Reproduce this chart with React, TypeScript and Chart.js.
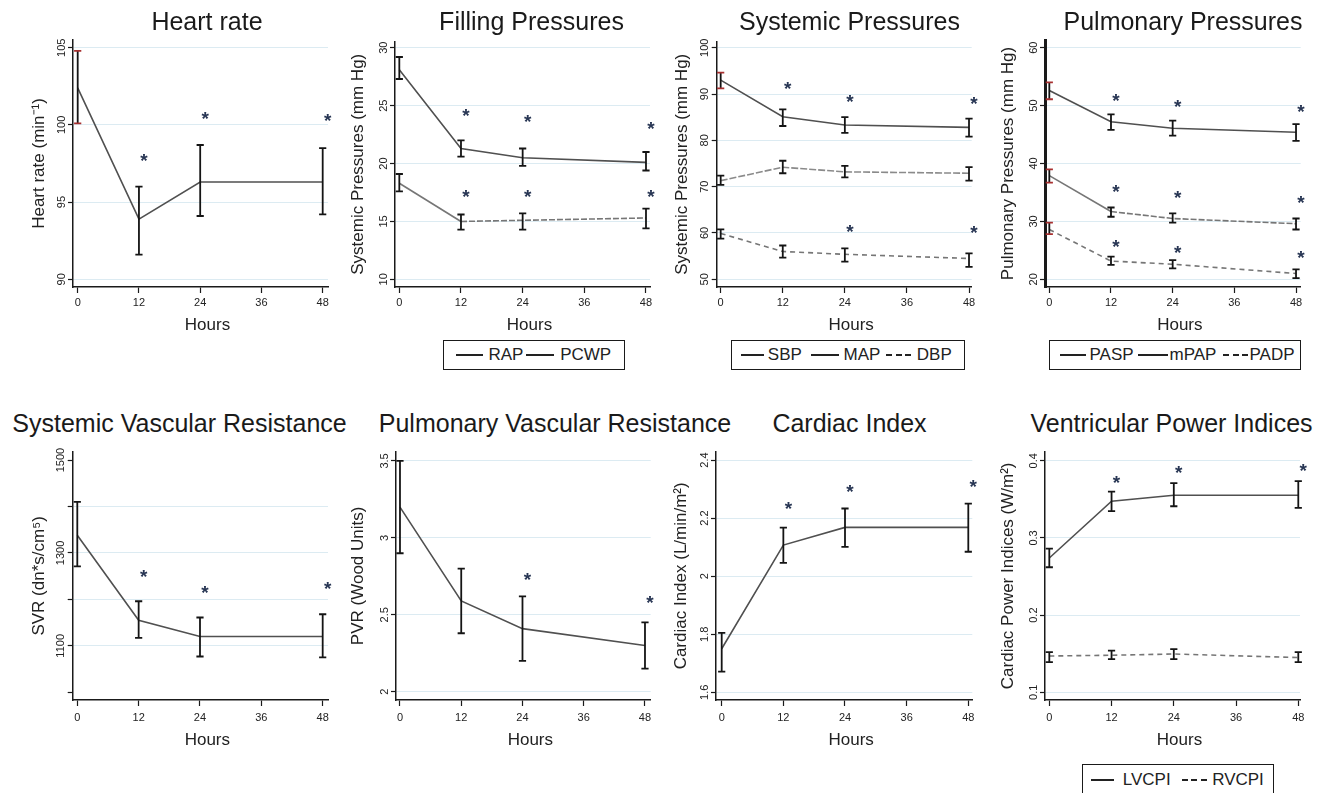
import React, { useEffect, useRef } from 'react';
import { Chart, registerables } from 'chart.js';

Chart.register(...registerables);

const FONT = '"Liberation Sans", Arial, Helvetica, sans-serif';
const GRID = '#dcebf2';
const AXIS = '#1a1a1a';

// ---------- shared categories ----------
const hours = [0, 12, 24, 48];
const xTickValues = [0, 12, 24, 36, 48];
const starHours = [12, 24, 48];
const lateStarHours = [24, 48];

// ---------- Heart rate ----------
const hrMean = [102.4, 93.9, 96.3, 96.3];
const hrLow = [100.1, 91.6, 94.1, 94.2];
const hrHigh = [104.8, 96.0, 98.7, 98.5];
const hrStars = [98.0, 100.7, 100.6];
const hrYTicks = [90, 95, 100, 105];
const hrYLabels = ['90', '95', '100', '105'];

// ---------- Filling pressures ----------
const rapMean = [28.1, 21.3, 20.5, 20.1];
const rapLow = [27.3, 20.6, 19.8, 19.4];
const rapHigh = [29.2, 22.0, 21.3, 21.0];
const rapStars = [24.5, 24.0, 23.4];
const pcwpMean = [18.3, 15.0, 15.1, 15.3];
const pcwpLow = [17.6, 14.3, 14.3, 14.4];
const pcwpHigh = [19.1, 15.6, 15.7, 16.1];
const pcwpStars = [17.5, 17.5, 17.5];
const fillYTicks = [10, 15, 20, 25, 30];
const fillYLabels = ['10', '15', '20', '25', '30'];

// ---------- Systemic pressures ----------
const sbpMean = [93.0, 85.1, 83.3, 82.8];
const sbpLow = [91.2, 83.1, 81.6, 80.8];
const sbpHigh = [94.6, 86.7, 85.0, 84.7];
const sbpStars = [92.2, 89.4, 88.9];
const mapMean = [71.3, 74.2, 73.2, 72.9];
const mapLow = [70.4, 72.9, 72.0, 71.3];
const mapHigh = [72.4, 75.6, 74.5, 74.2];
const dbpMean = [59.9, 56.0, 55.4, 54.5];
const dbpLow = [58.8, 54.7, 53.8, 52.7];
const dbpHigh = [60.8, 57.3, 56.7, 55.6];
const dbpStars = [61.2, 61.0];
const sysYTicks = [50, 60, 70, 80, 90, 100];
const sysYLabels = ['50', '60', '70', '80', '90', '100'];

// ---------- Pulmonary pressures ----------
const paspMean = [52.6, 47.2, 46.1, 45.4];
const paspLow = [51.1, 45.8, 44.8, 43.9];
const paspHigh = [54.0, 48.5, 47.4, 46.8];
const paspStars = [51.7, 50.6, 49.7];
const mpapMean = [37.9, 31.7, 30.5, 29.6];
const mpapLow = [36.7, 30.8, 29.8, 28.6];
const mpapHigh = [39.0, 32.4, 31.4, 30.5];
const mpapStars = [36.0, 34.85, 34.0];
const padpMean = [28.6, 23.15, 22.6, 21.0];
const padpLow = [27.8, 22.5, 21.9, 20.2];
const padpHigh = [29.8, 23.9, 23.3, 21.7];
const padpStars = [26.5, 25.35, 24.5];
const pulYTicks = [20, 30, 40, 50, 60];
const pulYLabels = ['20', '30', '40', '50', '60'];

// ---------- SVR ----------
const svrMean = [1338, 1155, 1120, 1120];
const svrLow = [1271, 1117, 1077, 1075];
const svrHigh = [1410, 1196, 1161, 1168];
const svrStars = [1259, 1225, 1232];
const svrYTicks = [1000, 1100, 1200, 1300, 1400, 1500];
const svrYLabels = ['', '1100', '', '1300', '', '1500'];
const svrNoGrid = [1000, 1500];

// ---------- PVR ----------
const pvrMean = [3.2, 2.59, 2.41, 2.3];
const pvrLow = [2.9, 2.38, 2.2, 2.15];
const pvrHigh = [3.5, 2.8, 2.62, 2.45];
const pvrStars = [2.76, 2.61];
const pvrYTicks = [2, 2.5, 3, 3.5];
const pvrYLabels = ['2', '2.5', '3', '3.5'];

// ---------- Cardiac index ----------
const ciMean = [1.75, 2.107, 2.168, 2.168];
const ciLow = [1.671, 2.046, 2.101, 2.084];
const ciHigh = [1.805, 2.167, 2.233, 2.25];
const ciStars = [2.248, 2.306, 2.325];
const ciYTicks = [1.6, 1.8, 2, 2.2, 2.4];
const ciYLabels = ['1.6', '1.8', '2', '2.2', '2.4'];

// ---------- Ventricular power indices ----------
const lvMean = [0.274, 0.3475, 0.3553, 0.3553];
const lvLow = [0.262, 0.3346, 0.341, 0.339];
const lvHigh = [0.286, 0.36, 0.371, 0.3735];
const lvStars = [0.377, 0.391, 0.393];
const rvMean = [0.147, 0.148, 0.1496, 0.145];
const rvLow = [0.139, 0.143, 0.143, 0.139];
const rvHigh = [0.152, 0.154, 0.156, 0.152];
const vpiYTicks = [0.1, 0.2, 0.3, 0.4];
const vpiYLabels = ['0.1', '0.2', '0.3', '0.4'];

type Series = {
  label: string;
  mean: number[];
  low: number[];
  high: number[];
  stars?: number[];
  starAt?: number[];
  color: string;
  dash?: number[];
  dashFrom?: number;
  firstCap?: string;
};

type LegendItem = { label: string; dash: boolean; x0: number; x1: number; tx: number };
type Legend = { left: number; top: number; width: number; height: number; items: LegendItem[] };

type Panel = {
  id: string;
  title: string;
  titleX: number;
  row: 0 | 1;
  left: number;
  width: number;
  areaTop: number;
  yW: number;
  padRight: number;
  yTitlePad: number;
  xMin: number;
  xMax: number;
  yMin: number;
  yMax: number;
  yTicks: number[];
  yLabels: string[];
  noGrid?: number[];
  yTitle: string;
  axisWidth: number;
  series: Series[];
  legend?: Legend;
};

const ROWS = [
  { top: 30, height: 310, areaBottom: 287, hoursY: 295.5, xPad: 3.1, titleTop: 8.8 },
  { top: 440, height: 315, areaBottom: 700, hoursY: 300, xPad: 5.4, titleTop: 410.5 },
];

const SOLID = '#505050';
const LIGHT = '#767676';
const RED = '#a83030';

const panels: Panel[] = [
  {
    id: 'hr', title: 'Heart rate', titleX: 207, row: 0, left: 0, width: 340, areaTop: 40, yW: 73, padRight: 12,
    yTitlePad: 28.8, xMin: -0.92, xMax: 49.04, yMin: 89.5, yMax: 105.5, yTicks: hrYTicks, yLabels: hrYLabels,
    yTitle: 'Heart rate (min⁻¹)', axisWidth: 1.5,
    series: [{ label: 'HR', mean: hrMean, low: hrLow, high: hrHigh, stars: hrStars, starAt: starHours, color: SOLID, firstCap: RED }],
  },
  {
    id: 'fill', title: 'Filling Pressures', titleX: 531.5, row: 0, left: 340, width: 328, areaTop: 41.5, yW: 55, padRight: 18,
    yTitlePad: 7.8, xMin: -0.84, xMax: 48.78, yMin: 9.34, yMax: 30.54, yTicks: fillYTicks, yLabels: fillYLabels,
    yTitle: 'Systemic Pressures (mm Hg)', axisWidth: 1.5,
    series: [
      { label: 'RAP', mean: rapMean, low: rapLow, high: rapHigh, stars: rapStars, starAt: starHours, color: SOLID },
      { label: 'PCWP', mean: pcwpMean, low: pcwpLow, high: pcwpHigh, stars: pcwpStars, starAt: starHours, color: LIGHT, dashFrom: 1 },
    ],
    legend: {
      left: 443, top: 340, width: 182, height: 29.5,
      items: [
        { label: 'RAP', dash: false, x0: 456.7, x1: 483.3, tx: 489 },
        { label: 'PCWP', dash: false, x0: 526.7, x1: 555, tx: 560.7 },
      ],
    },
  },
  {
    id: 'sys', title: 'Systemic Pressures', titleX: 849.5, row: 0, left: 668, width: 327, areaTop: 41.5, yW: 48.7, padRight: 23.3,
    yTitlePad: 4.5, xMin: -0.77, xMax: 48.52, yMin: 48.34, yMax: 101.34, yTicks: sysYTicks, yLabels: sysYLabels,
    yTitle: 'Systemic Pressures (mm Hg)', axisWidth: 1.5,
    series: [
      { label: 'SBP', mean: sbpMean, low: sbpLow, high: sbpHigh, stars: sbpStars, starAt: starHours, color: SOLID, firstCap: RED },
      { label: 'MAP', mean: mapMean, low: mapLow, high: mapHigh, color: '#8a8a8a', dash: [7, 2] },
      { label: 'DBP', mean: dbpMean, low: dbpLow, high: dbpHigh, stars: dbpStars, starAt: lateStarHours, color: LIGHT, dash: [5, 4] },
    ],
    legend: {
      left: 731, top: 339.5, width: 234, height: 30.5,
      items: [
        { label: 'SBP', dash: false, x0: 741.7, x1: 765, tx: 768.3 },
        { label: 'MAP', dash: false, x0: 811.7, x1: 840, tx: 844 },
        { label: 'DBP', dash: true, x0: 886.7, x1: 915, tx: 917.3 },
      ],
    },
  },
  {
    id: 'pul', title: 'Pulmonary Pressures', titleX: 1183, row: 0, left: 995, width: 336, areaTop: 40, yW: 50, padRight: 30.3,
    yTitlePad: 3.1, xMin: -0.84, xMax: 48.91, yMin: 18.67, yMax: 61.33, yTicks: pulYTicks, yLabels: pulYLabels,
    yTitle: 'Pulmonary Pressures (mm Hg)', axisWidth: 3,
    series: [
      { label: 'PASP', mean: paspMean, low: paspLow, high: paspHigh, stars: paspStars, starAt: starHours, color: SOLID, firstCap: RED },
      { label: 'mPAP', mean: mpapMean, low: mpapLow, high: mpapHigh, stars: mpapStars, starAt: starHours, color: LIGHT, dashFrom: 1, firstCap: RED },
      { label: 'PADP', mean: padpMean, low: padpLow, high: padpHigh, stars: padpStars, starAt: starHours, color: LIGHT, dash: [5, 4], firstCap: RED },
    ],
    legend: {
      left: 1049.3, top: 339.5, width: 251.7, height: 30.5,
      items: [
        { label: 'PASP', dash: false, x0: 1060.7, x1: 1086.7, tx: 1090 },
        { label: 'mPAP', dash: false, x0: 1138.3, x1: 1168.3, tx: 1170 },
        { label: 'PADP', dash: true, x0: 1223.3, x1: 1248.3, tx: 1250 },
      ],
    },
  },
  {
    id: 'svr', title: 'Systemic Vascular Resistance', titleX: 179.5, row: 1, left: 0, width: 340, areaTop: 451.7, yW: 72.7, padRight: 12,
    yTitlePad: 29, xMin: -0.9, xMax: 49.04, yMin: 983.4, yMax: 1517.9, yTicks: svrYTicks, yLabels: svrYLabels, noGrid: svrNoGrid,
    yTitle: 'SVR (dn*s/cm⁵)', axisWidth: 1.5,
    series: [{ label: 'SVR', mean: svrMean, low: svrLow, high: svrHigh, stars: svrStars, starAt: starHours, color: SOLID }],
  },
  {
    id: 'pvr', title: 'Pulmonary Vascular Resistance', titleX: 555, row: 1, left: 340, width: 328, areaTop: 451.7, yW: 56, padRight: 17.3,
    yTitlePad: 8, xMin: -0.78, xMax: 49.12, yMin: 1.946, yMax: 3.56, yTicks: pvrYTicks, yLabels: pvrYLabels,
    yTitle: 'PVR (Wood Units)', axisWidth: 1.5,
    series: [{ label: 'PVR', mean: pvrMean, low: pvrLow, high: pvrHigh, stars: pvrStars, starAt: lateStarHours, color: SOLID }],
  },
  {
    id: 'ci', title: 'Cardiac Index', titleX: 849.5, row: 1, left: 668, width: 327, areaTop: 451.7, yW: 48, padRight: 22.7,
    yTitlePad: 3.5, xMin: -1.11, xMax: 48.78, yMin: 1.5735, yMax: 2.4286, yTicks: ciYTicks, yLabels: ciYLabels,
    yTitle: 'Cardiac Index (L/min/m²)', axisWidth: 1.5,
    series: [{ label: 'CI', mean: ciMean, low: ciLow, high: ciHigh, stars: ciStars, starAt: starHours, color: SOLID }],
  },
  {
    id: 'vpi', title: 'Ventricular Power Indices', titleX: 1171.5, row: 1, left: 995, width: 336, areaTop: 451.7, yW: 50, padRight: 31,
    yTitlePad: 3.1, xMin: -0.83, xMax: 48.33, yMin: 0.09, yMax: 0.4117, yTicks: vpiYTicks, yLabels: vpiYLabels,
    yTitle: 'Cardiac Power Indices (W/m²)', axisWidth: 1.5,
    series: [
      { label: 'LVCPI', mean: lvMean, low: lvLow, high: lvHigh, stars: lvStars, starAt: starHours, color: SOLID },
      { label: 'RVCPI', mean: rvMean, low: rvLow, high: rvHigh, color: LIGHT, dash: [5, 4] },
    ],
    legend: {
      left: 1082.3, top: 764.3, width: 191.7, height: 31,
      items: [
        { label: 'LVCPI', dash: false, x0: 1091.7, x1: 1115, tx: 1123.3 },
        { label: 'RVCPI', dash: true, x0: 1182.7, x1: 1207.3, tx: 1212.7 },
      ],
    },
  },
];

function makeExtras(p: Panel) {
  const row = ROWS[p.row];
  return {
    id: 'extras_' + p.id,
    afterDatasetsDraw(chart: any) {
      const { ctx } = chart;
      const xs = chart.scales.x;
      const ys = chart.scales.y;
      ctx.save();
      p.series.forEach((s) => {
        hours.forEach((h, i) => {
          const px = xs.getPixelForValue(h);
          const y1 = ys.getPixelForValue(s.low[i]);
          const y2 = ys.getPixelForValue(s.high[i]);
          ctx.strokeStyle = '#141414';
          ctx.lineWidth = 1.8;
          ctx.beginPath();
          ctx.moveTo(px, y1);
          ctx.lineTo(px, y2);
          ctx.stroke();
          ctx.strokeStyle = i === 0 && s.firstCap ? s.firstCap : '#141414';
          ctx.beginPath();
          ctx.moveTo(px - 3.6, y1);
          ctx.lineTo(px + 3.6, y1);
          ctx.moveTo(px - 3.6, y2);
          ctx.lineTo(px + 3.6, y2);
          ctx.stroke();
        });
        if (s.stars && s.starAt) {
          ctx.fillStyle = '#283654';
          ctx.font = `bold 19px ${FONT}`;
          ctx.textAlign = 'center';
          ctx.textBaseline = 'alphabetic';
          s.stars.forEach((v, k) => {
            const sx = xs.getPixelForValue(s.starAt![k]) + 5;
            const sy = ys.getPixelForValue(v);
            ctx.fillText('*', sx, sy + 10.9);
          });
        }
      });
      ctx.restore();
    },
    afterDraw(chart: any) {
      const { ctx, chartArea } = chart;
      const ys = chart.scales.y;
      ctx.save();
      ctx.fillStyle = '#222';
      ctx.font = `11px ${FONT}`;
      ctx.textAlign = 'center';
      ctx.textBaseline = 'middle';
      p.yTicks.forEach((v, i) => {
        const lab = p.yLabels[i];
        if (!lab) return;
        const py = ys.getPixelForValue(v);
        ctx.save();
        ctx.translate(chartArea.left - 11.5, py);
        ctx.rotate(-Math.PI / 2);
        ctx.fillText(lab, 0, 0);
        ctx.restore();
      });
      ctx.font = `17px ${FONT}`;
      ctx.fillStyle = '#222';
      ctx.fillText('Hours', (chartArea.left + chartArea.right) / 2 + 7, row.hoursY);
      ctx.restore();
    },
  };
}

function PanelChart({ p }: { p: Panel }) {
  const ref = useRef<HTMLCanvasElement>(null);
  const row = ROWS[p.row];
  useEffect(() => {
    if (!ref.current) return;
    const xH = row.top + row.height - row.areaBottom;
    const chart = new Chart(ref.current, {
      type: 'line',
      data: {
        datasets: p.series.map((s) => ({
          label: s.label,
          data: hours.map((h, i) => ({ x: h, y: s.mean[i] })),
          borderColor: s.color,
          borderWidth: 1.6,
          borderDash: s.dash || [],
          segment:
            s.dashFrom != null
              ? { borderDash: (c: any) => (c.p0DataIndex >= (s.dashFrom as number) ? [6, 2] : undefined) }
              : undefined,
          pointRadius: 0,
          pointHoverRadius: 0,
          fill: false,
          tension: 0,
        })) as any,
      },
      options: {
        responsive: false,
        animation: false,
        devicePixelRatio: 1,
        events: [],
        layout: { padding: { top: p.areaTop - row.top, right: p.padRight, left: 0, bottom: 0 } },
        plugins: { legend: { display: false }, tooltip: { enabled: false }, title: { display: false } },
        scales: {
          x: {
            type: 'linear',
            min: p.xMin,
            max: p.xMax,
            afterBuildTicks: (s: any) => {
              s.ticks = xTickValues.map((v) => ({ value: v }));
            },
            afterFit: (s: any) => {
              s.height = xH;
            },
            grid: { drawOnChartArea: false, drawTicks: true, tickLength: 6, tickColor: AXIS, tickWidth: 1.2 },
            border: { display: true, color: AXIS, width: 1.5 },
            ticks: {
              font: { family: FONT, size: 11 },
              color: '#222',
              padding: row.xPad,
              maxRotation: 0,
              minRotation: 0,
              autoSkip: false,
              callback: (v: any) => String(v),
            },
          },
          y: {
            type: 'linear',
            min: p.yMin,
            max: p.yMax,
            afterBuildTicks: (s: any) => {
              s.ticks = p.yTicks.map((v) => ({ value: v }));
            },
            afterFit: (s: any) => {
              s.width = p.yW;
            },
            grid: {
              color: (c: any) => ((p.noGrid || []).includes(c.tick && c.tick.value) ? 'rgba(0,0,0,0)' : GRID),
              lineWidth: 1,
              drawTicks: true,
              tickLength: 5,
              tickColor: AXIS,
              tickWidth: 1.2,
            },
            border: { display: true, color: AXIS, width: p.axisWidth },
            ticks: { display: false },
            title: {
              display: true,
              text: p.yTitle,
              font: { family: FONT, size: 17 },
              color: '#222',
              padding: { top: p.yTitlePad, bottom: 0 },
            },
          },
        },
      } as any,
      plugins: [makeExtras(p)],
    });
    return () => chart.destroy();
  }, []);
  return (
    <canvas
      ref={ref}
      width={p.width}
      height={row.height}
      style={{ position: 'absolute', left: p.left, top: row.top, width: p.width, height: row.height }}
    />
  );
}

function LegendBox({ l }: { l: Legend }) {
  const bw = 1.5;
  return (
    <div
      style={{
        position: 'absolute',
        left: l.left,
        top: l.top,
        width: l.width,
        height: l.height,
        border: `${bw}px solid ${AXIS}`,
        boxSizing: 'border-box',
        background: '#fff',
      }}
    >
      {l.items.map((it) => (
        <React.Fragment key={it.label}>
          <div
            style={{
              position: 'absolute',
              left: it.x0 - l.left - bw,
              width: it.x1 - it.x0,
              top: '50%',
              height: 1.6,
              marginTop: -0.8,
              background: it.dash ? 'repeating-linear-gradient(to right, #222 0 6px, transparent 6px 9.5px)' : '#222',
            }}
          />
          <div
            style={{
              position: 'absolute',
              left: it.tx - l.left - bw,
              top: 0,
              bottom: 0,
              display: 'flex',
              alignItems: 'center',
              fontSize: 17,
              color: '#222',
              whiteSpace: 'nowrap',
            }}
          >
            {it.label}
          </div>
        </React.Fragment>
      ))}
    </div>
  );
}

export default function App() {
  return (
    <div
      style={{
        position: 'absolute',
        left: 0,
        top: 0,
        width: 1331,
        height: 793,
        background: '#fff',
        overflow: 'hidden',
        fontFamily: FONT,
      }}
    >
      {panels.map((p) => (
        <PanelChart key={p.id} p={p} />
      ))}
      {panels.map((p) => (
        <div
          key={'t_' + p.id}
          style={{
            position: 'absolute',
            left: p.titleX - 250,
            width: 500,
            top: ROWS[p.row].titleTop,
            textAlign: 'center',
            fontSize: 25,
            lineHeight: '25px',
            color: '#1a1a1a',
            whiteSpace: 'nowrap',
          }}
        >
          {p.title}
        </div>
      ))}
      {panels.map((p) => (p.legend ? <LegendBox key={'l_' + p.id} l={p.legend} /> : null))}
    </div>
  );
}
